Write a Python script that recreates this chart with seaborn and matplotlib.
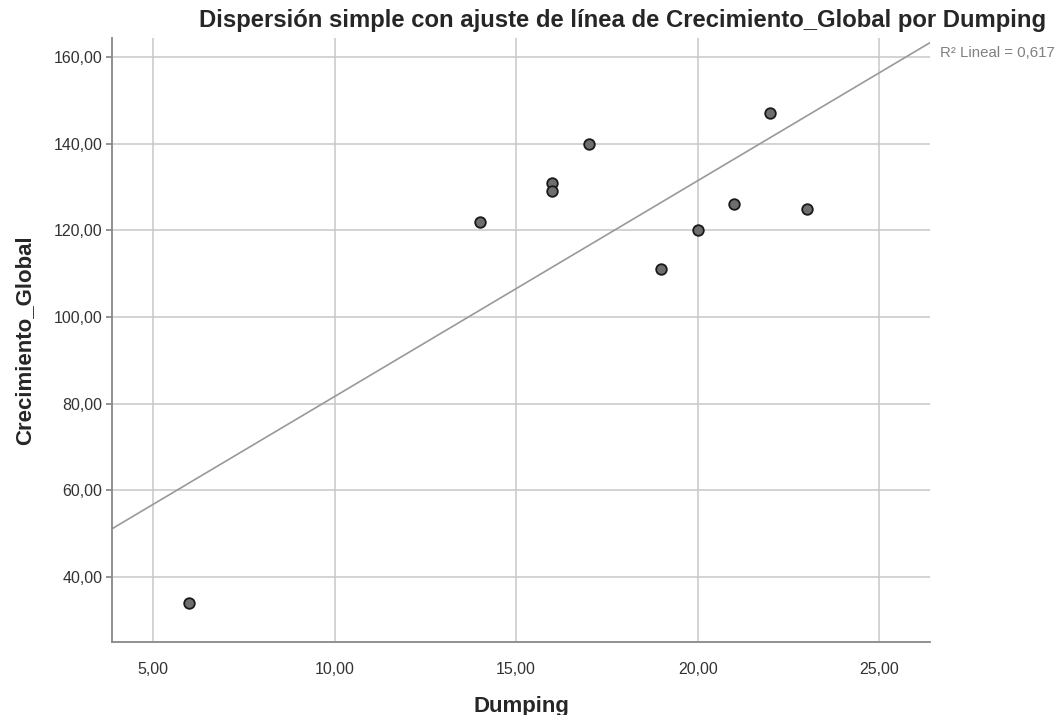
import numpy as np
import pandas as pd
import matplotlib
matplotlib.use("Agg")
import matplotlib.pyplot as plt
import seaborn as sns
from matplotlib.ticker import FuncFormatter, MultipleLocator

# Datos
dumping = [6, 14, 16, 16, 17, 19, 20, 21, 22, 23]
crecimiento = [34, 122, 131, 129, 140, 111, 120, 126, 147, 125]

df = pd.DataFrame({"Dumping": dumping, "Crecimiento_Global": crecimiento})

sns.set_theme(style="white")
plt.rcParams["font.family"] = ["Liberation Sans", "DejaVu Sans"]

fig = plt.figure(figsize=(10.58, 7.15), dpi=100)
ax = fig.add_axes([0.106, 0.102, 0.773, 0.845])

ax.set_xlim(3.87, 26.4)
ax.set_ylim(25, 164.4)

ax.grid(True, color="#c8c8c8", linewidth=1.1)
ax.set_axisbelow(True)

sns.regplot(data=df, x="Dumping", y="Crecimiento_Global", ax=ax, ci=None,
            truncate=False,
            scatter_kws=dict(s=58, color="#6e6e6e", edgecolor="#1a1a1a",
                             linewidths=1.3, alpha=1, zorder=3),
            line_kws=dict(color="#999999", linewidth=1.2, zorder=2))

# R² del ajuste lineal
r = np.corrcoef(dumping, crecimiento)[0, 1]
r2_txt = f"R² Lineal = {r**2:.3f}".replace(".", ",")
ax.text(1.012, 0.975, r2_txt, transform=ax.transAxes, fontsize=10.8,
        color="#808080", va="center", ha="left", clip_on=False)

fmt = FuncFormatter(lambda v, p: f"{v:.2f}".replace(".", ","))
ax.xaxis.set_major_locator(MultipleLocator(5))
ax.yaxis.set_major_locator(MultipleLocator(20))
ax.xaxis.set_major_formatter(fmt)
ax.yaxis.set_major_formatter(fmt)

for s in ["top", "right"]:
    ax.spines[s].set_visible(False)
for s in ["left", "bottom"]:
    ax.spines[s].set_color("#888888")
    ax.spines[s].set_linewidth(1.3)

ax.tick_params(axis="y", left=True, length=4, color="#888888", labelsize=11.5,
               labelcolor="#333333", pad=3)
ax.tick_params(axis="x", bottom=False, labelsize=11.5, labelcolor="#333333", pad=8)

ax.set_xlabel("Dumping", fontsize=16, fontweight="bold", labelpad=14)
ax.set_ylabel("Crecimiento_Global", fontsize=16, fontweight="bold", labelpad=13)

fig.text(0.5884, 0.972, "Dispersión simple con ajuste de línea de Crecimiento_Global por Dumping",
         ha="center", va="center", fontsize=17.2, fontweight="bold")

fig.savefig("out.png", dpi=100)
